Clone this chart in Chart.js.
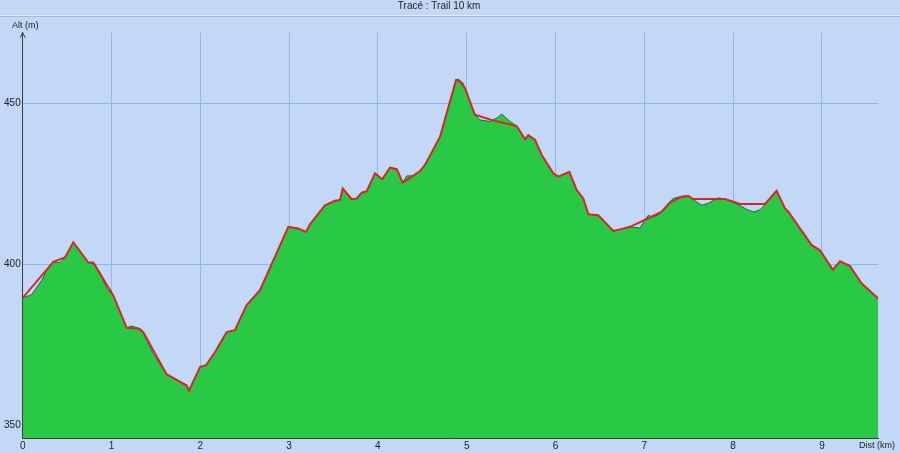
<!DOCTYPE html>
<html lang="fr">
<head>
    <meta charset="UTF-8">
    <title>Tracé : Trail 10 km</title>
    <script src="https://cdn.jsdelivr.net/npm/chart.js"></script>
    <style>
        body {
            margin: 0;
            background-color: #c3d8f7;
        }
        canvas {
            display: block;
        }
    </style>
</head>
<body>
    <canvas id="profile" width="900" height="453"></canvas>
    <script>
        // Red line: simplified trace (km, m)
        const traceDist = [0, 0.345, 0.476, 0.57, 0.739, 0.795, 1.02, 1.171, 1.30, 1.358, 1.62, 1.847, 1.873, 1.997,
            2.064, 2.166, 2.297, 2.39, 2.52, 2.672, 2.991, 3.10, 3.19, 3.235, 3.404, 3.517, 3.573, 3.604, 3.705,
            3.761, 3.818, 3.874, 3.967, 4.05, 4.136, 4.212, 4.279, 4.40, 4.474, 4.53, 4.70, 4.88, 4.925, 4.98,
            5.093, 5.28, 5.563, 5.657, 5.694, 5.77, 5.845, 5.975, 6.032, 6.156, 6.239, 6.313, 6.37, 6.482, 6.651,
            6.726, 6.84, 7.063, 7.196, 7.29, 7.40, 7.495, 7.55, 7.909, 8.078, 8.36, 8.49, 8.584, 8.622, 8.885,
            8.978, 9.122, 9.204, 9.316, 9.448, 9.635];
        const traceAlt = [389.6, 400.8, 402.2, 406.9, 400.6, 400.6, 390.4, 380.3, 380.1, 379.0, 365.9, 362.4, 360.8, 368.1,
            368.7, 372.8, 379.0, 379.6, 387.3, 392.0, 411.7, 411.2, 410.1, 412.5, 418.4, 419.8, 420.0, 423.6, 420.3,
            420.5, 422.3, 422.8, 428.3, 426.5, 430.1, 429.6, 425.4, 427.6, 429.0, 430.9, 439.7, 457.3, 456.8, 454.8,
            446.5, 444.9, 443.0, 438.9, 440.2, 438.7, 434.0, 428.3, 427.3, 428.8, 423.1, 420.5, 415.6, 415.3, 410.4,
            410.9, 411.7, 414.6, 416.4, 419.2, 420.8, 421.3, 420.3, 420.3, 418.8, 418.8, 422.9, 417.4, 416.4, 406.0,
            404.4, 398.4, 401.0, 399.5, 394.1, 389.4];

        // Green area: recorded elevation profile (km, m)
        const profileDist = [0, 0.1, 0.214, 0.27, 0.345, 0.42, 0.476, 0.57, 0.739, 0.795, 0.87, 0.95, 1.02, 1.171,
            1.227, 1.34, 1.47, 1.62, 1.847, 1.873, 1.997, 2.064, 2.166, 2.297, 2.39, 2.52, 2.672, 2.991, 3.10, 3.19,
            3.235, 3.404, 3.517, 3.573, 3.604, 3.705, 3.761, 3.818, 3.874, 3.967, 4.05, 4.136, 4.212, 4.279, 4.324,
            4.40, 4.474, 4.53, 4.70, 4.88, 4.905, 4.96, 5.093, 5.15, 5.26, 5.345, 5.394, 5.49, 5.563, 5.657, 5.694,
            5.77, 5.845, 5.975, 6.032, 6.156, 6.239, 6.313, 6.37, 6.482, 6.651, 6.726, 6.84, 6.95, 7.045, 7.10, 7.18,
            7.27, 7.326, 7.44, 7.50, 7.571, 7.646, 7.72, 7.834, 7.93, 8.078, 8.153, 8.235, 8.31, 8.378, 8.49, 8.584,
            8.622, 8.885, 8.978, 9.122, 9.204, 9.316, 9.448, 9.635];
        const profileAlt = [389.6, 390.6, 395.1, 398.2, 400.8, 400.6, 402.2, 406.9, 400.6, 400.2, 397.5, 392.3, 390.4, 380.3,
            380.9, 379.8, 372.3, 365.9, 362.4, 360.8, 368.1, 368.7, 372.8, 379.0, 379.6, 387.3, 392.0, 411.7, 411.2, 410.1,
            412.5, 418.4, 419.8, 420.0, 423.6, 420.3, 420.5, 422.3, 422.8, 428.3, 426.5, 430.1, 429.6, 425.4, 427.5,
            427.6, 429.0, 430.9, 439.7, 457.3, 457.6, 456.3, 446.5, 444.9, 444.4, 445.6, 446.7, 444.4, 443.0, 438.9, 440.2,
            438.7, 434.0, 428.3, 427.3, 428.8, 423.1, 420.5, 415.6, 415.3, 410.4, 410.9, 411.7, 411.3, 415.3, 414.6, 415.9,
            419.0, 420.5, 421.3, 421.1, 419.8, 418.4, 419.0, 420.7, 420.2, 418.3, 417.1, 416.3, 417.1, 419.2, 422.9, 417.4,
            416.4, 406.0, 404.4, 398.4, 401.0, 399.5, 394.1, 389.4];

        const altTicks = [350, 400, 450];
        const distTicks = [0, 1, 2, 3, 4, 5, 6, 7, 8, 9];

        const toPoints = (xs, ys) => xs.map((x, i) => ({ x: x, y: ys[i] }));

        // Title rule, axis arrow and axis names
        const decorations = {
            id: 'decorations',
            afterDraw(chart) {
                const ctx = chart.ctx;
                const area = chart.chartArea;
                ctx.save();
                ctx.fillStyle = '#e4eaf2';
                ctx.fillRect(0, 15, chart.width, 1);
                ctx.fillStyle = '#a9b8cc';
                ctx.fillRect(0, 16, chart.width, 1);

                ctx.strokeStyle = '#3c3c3c';
                ctx.lineWidth = 1;
                ctx.beginPath();
                ctx.moveTo(area.left - 2.5, area.top + 5);
                ctx.lineTo(area.left, area.top);
                ctx.lineTo(area.left + 2.5, area.top + 5);
                ctx.stroke();

                ctx.fillStyle = '#202020';
                ctx.font = '9px "Liberation Sans", Arial, sans-serif';
                ctx.textBaseline = 'middle';
                ctx.textAlign = 'left';
                ctx.fillText('Alt (m)', 12, 26);
                ctx.textAlign = 'right';
                ctx.fillText('Dist (km)', 895, 446);
                ctx.restore();
            }
        };

        new Chart(document.getElementById('profile'), {
            type: 'line',
            data: {
                datasets: [
                    {
                        label: 'Tracé',
                        data: toPoints(traceDist, traceAlt),
                        borderColor: '#d42828',
                        borderWidth: 2,
                        pointRadius: 0,
                        fill: false,
                        order: 0
                    },
                    {
                        label: 'Profil',
                        data: toPoints(profileDist, profileAlt),
                        borderColor: '#2f5f45',
                        borderWidth: 1,
                        backgroundColor: '#29c845',
                        pointRadius: 0,
                        fill: 'start',
                        order: 1
                    }
                ]
            },
            options: {
                responsive: false,
                animation: false,
                layout: { padding: { left: 0, right: 21.7, top: 0, bottom: 0 } },
                plugins: {
                    legend: { display: false },
                    tooltip: { enabled: false },
                    title: {
                        display: true,
                        text: 'Tracé : Trail 10 km',
                        color: '#202020',
                        font: { family: '"Liberation Sans", Arial, sans-serif', size: 10, weight: 'normal' },
                        padding: { top: 0, bottom: 20.7 }
                    }
                },
                scales: {
                    x: {
                        type: 'linear',
                        min: 0,
                        max: traceDist[traceDist.length - 1],
                        afterBuildTicks: s => { s.ticks = distTicks.map(v => ({ value: v })); },
                        afterFit: s => { s.height = 14.7; },
                        grid: { color: '#93b4ec', drawTicks: false },
                        border: { color: '#3c3c3c', width: 1 },
                        ticks: {
                            color: '#202020',
                            padding: 2,
                            maxRotation: 0,
                            autoSkip: false,
                            font: { family: '"Liberation Sans", Arial, sans-serif', size: 10 }
                        }
                    },
                    y: {
                        min: 346,
                        max: 472,
                        afterBuildTicks: s => { s.ticks = altTicks.map(v => ({ value: v })); },
                        afterFit: s => { s.width = 22.7; },
                        grid: { color: '#93b4ec', drawTicks: false },
                        border: { color: '#3c3c3c', width: 1 },
                        ticks: {
                            color: '#202020',
                            padding: 2,
                            font: { family: '"Liberation Sans", Arial, sans-serif', size: 10 }
                        }
                    }
                }
            },
            plugins: [decorations]
        });
    </script>
</body>
</html>
